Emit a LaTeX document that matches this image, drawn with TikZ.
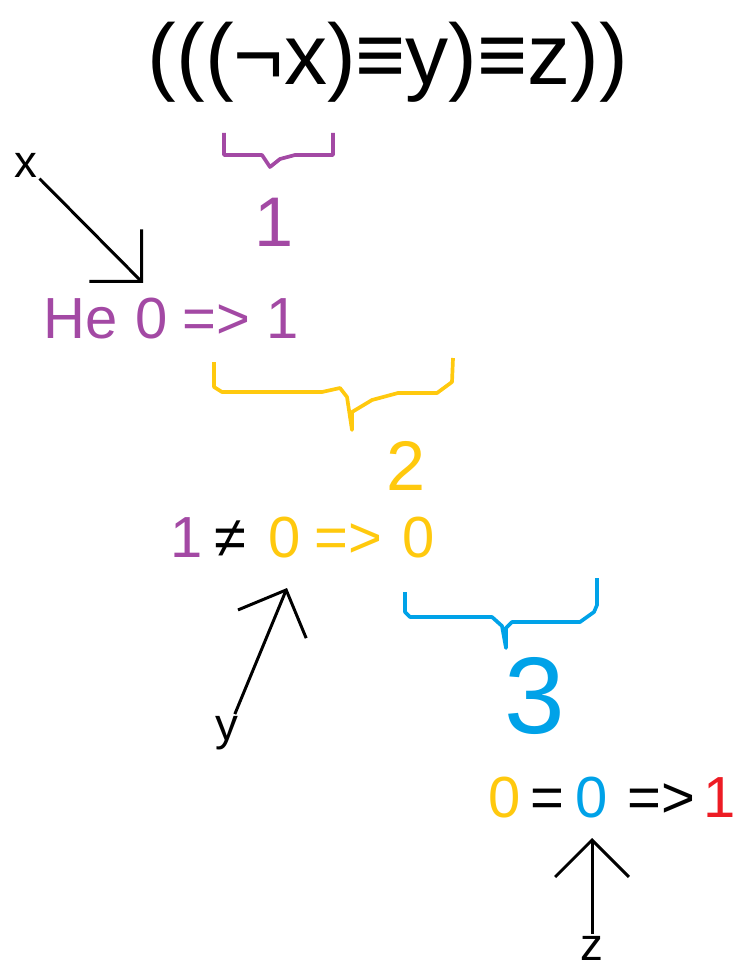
\documentclass[tikz,border=0pt]{standalone}
\usepackage{fontspec}
\setmainfont{Liberation Sans}
\usepackage{tikz}
\usetikzlibrary{arrows.meta}
\definecolor{stepPurple}{HTML}{A349A4}
\definecolor{stepGold}{HTML}{FFC90E}
\definecolor{stepBlue}{HTML}{00A2E8}
\definecolor{stepRed}{HTML}{ED1C24}
\tikzset{
	valtext/.style={font=\fontsize{33}{36}\selectfont, anchor=base, inner sep=1pt},
	varlabel/.style={font=\fontsize{26}{28}\selectfont, text=black, inner sep=1pt},
	stepnum/.style={font=\fontsize{40}{44}\selectfont, anchor=base, inner sep=1pt, text=#1},
	bracepath/.style={draw=#1, line width=2.1pt, line join=round},
	ptrarr/.style={-{Straight Barb[length=21pt, width=42pt]}, line width=1.7pt},
}

\begin{document}
\begin{tikzpicture}[x=0.02cm, y=-0.02cm]
	\useasboundingbox (0,0) rectangle (736,969);

	% Formula
	\node[font=\fontsize{49}{54}\selectfont, anchor=base] (expr) at (388,85) {(((¬x)≡y)≡z))};

	% Step 1: not x
	\draw[bracepath=stepPurple] (224,133) -- (224,155) -- (262,155) -- (270,167) -- (280,159) -- (295,155) -- (333,155) -- (333,133);
	\node[stepnum=stepPurple] (num1) at (274,247) {1};
	\node[valtext, text=stepPurple] (ne) at (81,338) {Не};
	\node[valtext, text=stepPurple] (xval) at (152,338) {0};
	\node[valtext, text=stepPurple] (imp1) at (216,338) {=>};
	\node[valtext, text=stepPurple] (res1) at (283,338) {1};

	% Step 2: ... = y
	\draw[bracepath=stepGold] (214,362) -- (214,387) -- (222,392) -- (322,392) -- (340,388) -- (347,397) -- (352,430) -- (352,412) -- (372,400) -- (398,393) -- (437,393) -- (452,382) -- (453,358);
	\node[stepnum=stepGold] (num2) at (406,490) {2};
	\node[valtext, text=stepPurple] (left2) at (187,557) {1};
	\node[valtext, text=black] (neq2) at (230,557) {≠};
	\node[valtext, text=stepGold] (yval) at (285,557) {0};
	\node[valtext, text=stepGold] (imp2) at (348,557) {=>};
	\node[valtext, text=stepGold] (res2) at (419,557) {0};

	% Step 3: ... = z
	\draw[bracepath=stepBlue] (405,592) -- (405,612) -- (410,617) -- (492,617) -- (502,626) -- (506,648) -- (506,628) -- (512,622) -- (580,622) -- (594,612) -- (597,605) -- (597,578);
	\node[font=\fontsize{62}{66}\selectfont, anchor=base, inner sep=1pt, text=stepBlue] (num3) at (535,733) {3};
	\node[valtext, text=stepGold] (left3) at (505,817) {0};
	\node[valtext, text=black] (eq3) at (547,817) {=};
	\node[valtext, text=stepBlue] (zval) at (592,817) {0};
	\node[valtext, text=black] (imp3) at (661,817) {=>};
	\node[valtext, text=stepRed] (res3) at (720,817) {1};

	% Variables
	\node[varlabel] (xlab) at (26,165) {x};
	\node[varlabel] (ylab) at (227,733) {y};
	\node[varlabel] (zlab) at (592,948) {z};
	\coordinate (xtip) at (143,283);
	\coordinate (ytip) at (287,588);
	\coordinate (ztip) at (592,838);

	% Arrows
	\draw[ptrarr] (xlab) -- (xtip);
	\draw[ptrarr] (ylab) -- (ytip);
	\draw[ptrarr] (zlab) -- (ztip);
\end{tikzpicture}
\end{document}
